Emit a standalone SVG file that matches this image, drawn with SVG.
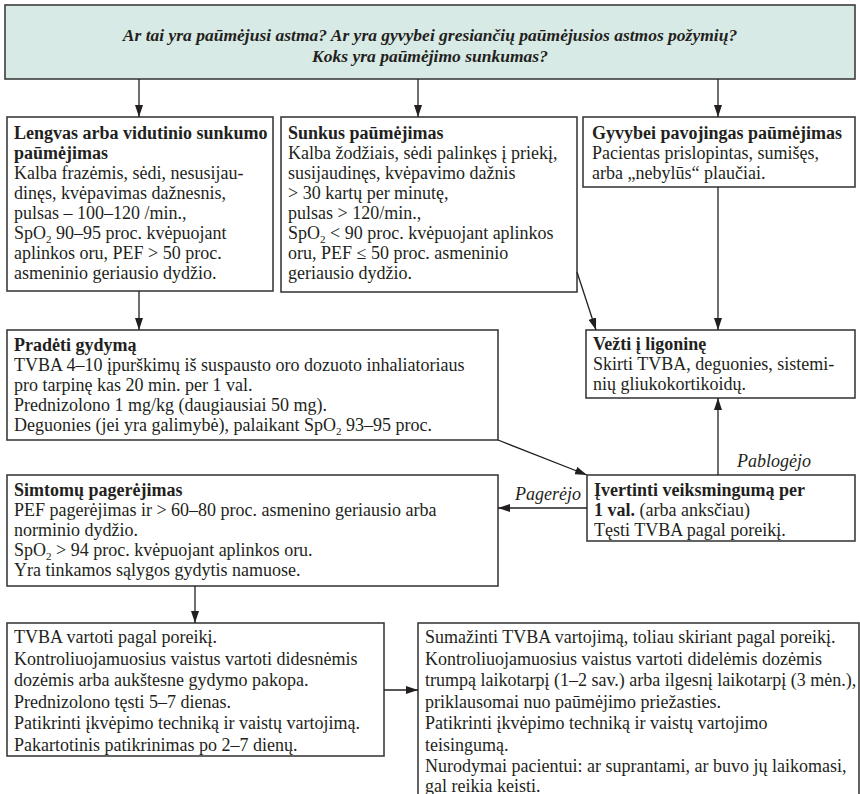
<svg xmlns="http://www.w3.org/2000/svg" width="860" height="794" viewBox="0 0 860 794">
<defs>
<marker id="ah" viewBox="0 0 12 8" refX="12" refY="4" markerWidth="12" markerHeight="8" markerUnits="userSpaceOnUse" orient="auto">
<path d="M0,0 L12,4 L0,8 z" fill="#231f20"/>
</marker>
<style>
.box{fill:#fff;stroke:#3c3c3c;stroke-width:1.6}
.top{fill:#d8eae5;stroke:#3c3c3c;stroke-width:1.6}
text{font-family:"Liberation Serif","Times New Roman",serif;font-size:18px;fill:#231f20}
.b{font-weight:bold}
.hd{font-style:italic;font-weight:bold;text-anchor:middle;font-size:17.5px}
.lbl{font-style:italic}
.sub{font-size:11px}
.con{stroke:#231f20;stroke-width:1.3;fill:none;marker-end:url(#ah)}
</style>
</defs>
<rect width="860" height="794" fill="#fff"/>

<g id="top">
<rect class="top" x="5" y="5" width="850" height="74"/>
<text class="hd" x="430" y="41">Ar tai yra paūmėjusi astma? Ar yra gyvybei gresiančių paūmėjusios astmos požymių?</text>
<text class="hd" x="430" y="62">Koks yra paūmėjimo sunkumas?</text>
</g>

<g id="lengvas">
<rect class="box" x="7" y="117" width="266" height="174"/>
<text x="14" y="139" class="b">Lengvas arba vidutinio sunkumo</text>
<text x="14" y="159" class="b">paūmėjimas</text>
<text x="14" y="179">Kalba frazėmis, sėdi, nesusijau-</text>
<text x="14" y="199">dinęs, kvėpavimas dažnesnis,</text>
<text x="14" y="219">pulsas – 100–120 /min.,</text>
<text x="14" y="239">SpO<tspan class="sub" dy="4">2</tspan><tspan dy="-4"> 90–95 proc. kvėpuojant</tspan></text>
<text x="14" y="259">aplinkos oru, PEF &gt; 50 proc.</text>
<text x="14" y="279">asmeninio geriausio dydžio.</text>
</g>

<g id="sunkus">
<rect class="box" x="281" y="117" width="296" height="175"/>
<text x="288" y="139" class="b">Sunkus paūmėjimas</text>
<text x="288" y="159">Kalba žodžiais, sėdi palinkęs į priekį,</text>
<text x="288" y="179">susijaudinęs, kvėpavimo dažnis</text>
<text x="288" y="199">&gt; 30 kartų per minutę,</text>
<text x="288" y="219">pulsas &gt; 120/min.,</text>
<text x="288" y="239">SpO<tspan class="sub" dy="4">2</tspan><tspan dy="-4"> &lt; 90 proc. kvėpuojant aplinkos</tspan></text>
<text x="288" y="259">oru, PEF ≤ 50 proc. asmeninio</text>
<text x="288" y="279">geriausio dydžio.</text>
</g>

<g id="gyvybei">
<rect class="box" x="583" y="117" width="272" height="70"/>
<text x="592" y="139" class="b">Gyvybei pavojingas paūmėjimas</text>
<text x="592" y="159">Pacientas prislopintas, sumišęs,</text>
<text x="592" y="179">arba „nebylūs“ plaučiai.</text>
</g>

<g id="pradeti">
<rect class="box" x="7" y="330" width="491" height="110"/>
<text x="14" y="351" class="b">Pradėti gydymą</text>
<text x="14" y="371">TVBA 4–10 įpurškimų iš suspausto oro dozuoto inhaliatoriaus</text>
<text x="14" y="391">pro tarpinę kas 20 min. per 1 val.</text>
<text x="14" y="411">Prednizolono 1 mg/kg (daugiausiai 50 mg).</text>
<text x="14" y="431">Deguonies (jei yra galimybė), palaikant SpO<tspan class="sub" dy="4">2</tspan><tspan dy="-4"> 93–95 proc.</tspan></text>
</g>

<g id="vezti">
<rect class="box" x="586" y="330" width="269" height="68"/>
<text x="593" y="350" class="b">Vežti į ligoninę</text>
<text x="593" y="370">Skirti TVBA, deguonies, sistemi-</text>
<text x="593" y="390">nių gliukokortikoidų.</text>
</g>

<g id="ivertinti">
<rect class="box" x="587" y="475" width="268" height="66"/>
<text x="594" y="496" class="b">Įvertinti veiksmingumą per</text>
<text x="594" y="516"><tspan class="b">1 val.</tspan> (arba anksčiau)</text>
<text x="594" y="536">Tęsti TVBA pagal poreikį.</text>
</g>

<g id="simptomu">
<rect class="box" x="7" y="475" width="491" height="111"/>
<text x="14" y="496" class="b">Simtomų pagerėjimas</text>
<text x="14" y="516">PEF pagerėjimas ir &gt; 60–80 proc. asmenino geriausio arba</text>
<text x="14" y="536">norminio dydžio.</text>
<text x="14" y="556">SpO<tspan class="sub" dy="4">2</tspan><tspan dy="-4"> &gt; 94 proc. kvėpuojant aplinkos oru.</tspan></text>
<text x="14" y="576">Yra tinkamos sąlygos gydytis namuose.</text>
</g>

<g id="tvba">
<rect class="box" x="7" y="623" width="377" height="133"/>
<text x="14" y="643">TVBA vartoti pagal poreikį.</text>
<text x="14" y="664.5">Kontroliuojamuosius vaistus vartoti didesnėmis</text>
<text x="14" y="686">dozėmis arba aukštesne gydymo pakopa.</text>
<text x="14" y="707.5">Prednizolono tęsti 5–7 dienas.</text>
<text x="14" y="729">Patikrinti įkvėpimo techniką ir vaistų vartojimą.</text>
<text x="14" y="750.5">Pakartotinis patikrinimas po 2–7 dienų.</text>
</g>

<g id="sumazinti">
<rect class="box" x="418" y="623" width="441" height="190"/>
<text x="425" y="643">Sumažinti TVBA vartojimą, toliau skiriant pagal poreikį.</text>
<text x="425" y="664.5">Kontroliuojamuosius vaistus vartoti didelėmis dozėmis</text>
<text x="425" y="686">trumpą laikotarpį (1–2 sav.) arba ilgesnį laikotarpį (3 mėn.),</text>
<text x="425" y="707.5">priklausomai nuo paūmėjimo priežasties.</text>
<text x="425" y="729">Patikrinti įkvėpimo techniką ir vaistų vartojimo</text>
<text x="425" y="750.5">teisingumą.</text>
<text x="425" y="772">Nurodymai pacientui: ar suprantami, ar buvo jų laikomasi,</text>
<text x="425" y="792">gal reikia keisti.</text>
</g>

<g id="connectors">
<line class="con" x1="139" y1="79" x2="139" y2="117"/>
<line class="con" x1="418" y1="79" x2="418" y2="117"/>
<line class="con" x1="718" y1="79" x2="718" y2="117"/>
<line class="con" x1="139" y1="291" x2="139" y2="330"/>
<line class="con" x1="577" y1="272" x2="596" y2="330"/>
<line class="con" x1="718" y1="187" x2="718" y2="330"/>
<line class="con" x1="498" y1="440" x2="587" y2="475"/>
<line class="con" x1="718" y1="475" x2="718" y2="398"/>
<line class="con" x1="587" y1="508" x2="498" y2="508"/>
<line class="con" x1="195" y1="586" x2="195" y2="623"/>
<line class="con" x1="384" y1="690" x2="418" y2="690"/>
<text class="lbl" x="737" y="467">Pablogėjo</text>
<text class="lbl" x="515" y="500">Pagerėjo</text>
</g>
</svg>
